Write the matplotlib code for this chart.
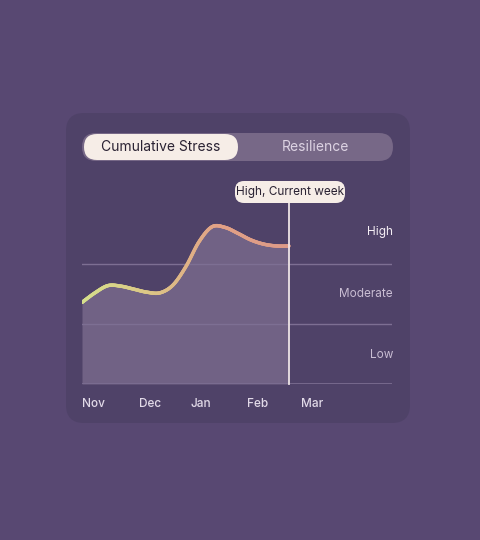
import numpy as np
import matplotlib
matplotlib.use("Agg")
import matplotlib.pyplot as plt
from matplotlib.patches import FancyBboxPatch
from matplotlib.collections import LineCollection
from matplotlib.colors import LinearSegmentedColormap

# data (x in weeks from start, y in level units: 0-1 Low, 1-2 Moderate, 2-3 High)
weeks = [0, 1, 2, 3, 4, 5, 6, 7, 8, 9, 10, 11, 12, 13, 14, 15, 15.92]
stress = [1.36, 1.52, 1.64, 1.63, 1.58, 1.53, 1.52, 1.65, 1.96, 2.37, 2.62, 2.61, 2.51, 2.40, 2.33, 2.30, 2.30]
months = ["Nov", "Dec", "Jan", "Feb", "Mar"]
month_pos = [0.85, 5.2, 9.15, 13.5, 17.7]
levels = ["Low", "Moderate", "High"]
current_week = 15.92
tooltip = "High, Current week"

W, H = 480, 540
def fx(x): return x / W
def fy(y): return 1 - y / H

fig = plt.figure(figsize=(4.8, 5.4), dpi=100)
fig.patch.set_facecolor("#584872")
plt.rcParams['font.family'] = ['Inter', 'DejaVu Sans']

def rbox(x0, y0, x1, y1, r, color, ec="none", z=0):
    p = FancyBboxPatch((fx(x0), fy(y1)), fx(x1 - x0), (y1 - y0) / H,
                       boxstyle=f"round,pad=0,rounding_size={r / W}",
                       transform=fig.transFigure, facecolor=color, edgecolor=ec, zorder=z,
                       mutation_aspect=W / H)
    fig.patches.append(p)

rbox(66, 113, 410, 423, 18, "#4f4268", z=-1)
rbox(82, 133, 393, 161, 14, "#776887", z=1)
rbox(84, 134, 238, 160, 13, "#f6ede7", z=2)
fig.text(fx(161), fy(147), "Cumulative Stress", ha="center", va="center", fontsize=10, color="#2a2233", zorder=3)
fig.text(fx(315), fy(147), "Resilience", ha="center", va="center", fontsize=10, color="#ddd3e3", zorder=3)

ax = fig.add_axes([fx(82), fy(384), 310 / W, 180 / H])
ax.set_zorder(3)
ax.set_facecolor("none")
ax.set_xlim(0, 310 / 13)
ax.set_ylim(0, 3)
for s in ax.spines.values():
    s.set_visible(False)
ax.set_xticks([]); ax.set_yticks([])

# smooth rendering via Catmull-Rom
def catmull(xs, ys, n=20):
    xs = np.array(xs, float); ys = np.array(ys, float)
    P = np.column_stack([xs, ys])
    P = np.vstack([P[0], P, P[-1]])
    out = []
    for i in range(1, len(P) - 2):
        p0, p1, p2, p3 = P[i - 1], P[i], P[i + 1], P[i + 2]
        for t in np.linspace(0, 1, n, endpoint=False):
            t2, t3 = t * t, t * t * t
            out.append(0.5 * ((2 * p1) + (-p0 + p2) * t + (2 * p0 - 5 * p1 + 4 * p2 - p3) * t2 + (-p0 + 3 * p1 - 3 * p2 + p3) * t3))
    out.append(P[-2])
    out = np.array(out)
    return out[:, 0], out[:, 1]

sx, sy = catmull(weeks, stress)
ax.fill_between(sx, 0, sy, color="#716285", zorder=1, lw=0)
for yv in [1, 2]:
    ax.axhline(yv, color="#7d6f93", lw=1, zorder=2)
ax.axhline(0.005, color="#7d6f93", lw=1.2, zorder=2)

cmap = LinearSegmentedColormap.from_list("g", ["#d6e08c", "#dcc686", "#e2a186", "#dc9a88"])
pts = np.column_stack([sx, sy]).reshape(-1, 1, 2)
segs = np.concatenate([pts[:-1], pts[1:]], axis=1)
lc = LineCollection(segs, cmap=cmap, linewidth=2.5, capstyle="round", zorder=4)
lc.set_array(sx[:-1] / sx.max())
ax.add_collection(lc)

ax.plot([current_week, current_week], [0, 3.02], color="#eee4e6", lw=1.3, zorder=5, clip_on=False)

# level labels
for i, lab in enumerate(levels):
    fig.text(fx(393), fy([355, 294, 232][i]), lab, ha="right", va="center", fontsize=8.5,
             color="#f4eef4" if lab == "High" else "#c9bdd3")
for m, p in zip(months, month_pos):
    ax.text(p, -0.34, m, ha="center", va="center", fontsize=8.5, color="#e2dae8", fontweight="medium")

# tooltip
rbox(235, 181, 345, 203, 9, "#f6ede7", z=6)
fig.text(fx(290), fy(192), tooltip, ha="center", va="center", fontsize=8.5, color="#2a2233", zorder=7)

fig.savefig("out.png", dpi=100, facecolor=fig.get_facecolor())
